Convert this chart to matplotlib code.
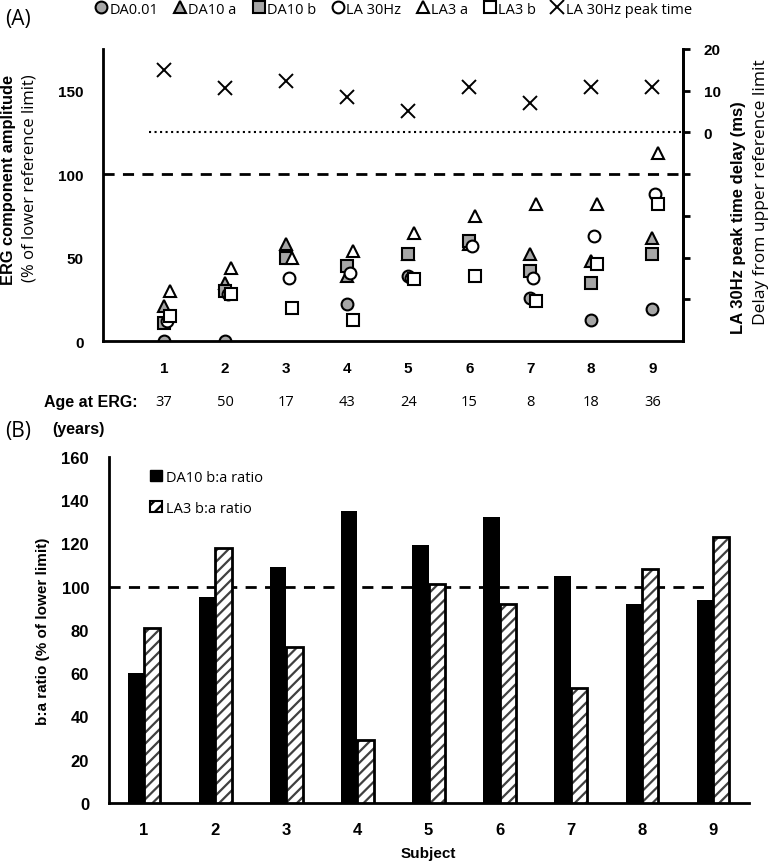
import numpy as np
import matplotlib
matplotlib.use("Agg")
from matplotlib import pyplot as plt
from matplotlib.patches import Patch

# panel A data (% of lower reference limit)
subjects = [1, 2, 3, 4, 5, 6, 7, 8, 9]
ages = [37, 50, 17, 43, 24, 15, 8, 18, 36]
da001 = [0, 0, np.nan, 22, 39, 58, 26, 13, 19]
da10_a = [21, 35, 58, 39, 52, 58, 52, 48, 62]
da10_b = [11, 30, 50, 45, 52, 60, 42, 35, 52]
la30 = [12, 28, 38, 41, 38, 57, 38, 63, 88]
la3_a = [30, 44, 50, 54, 65, 75, 82, 82, 113]
la3_b = [15, 28, 20, 13, 37, 39, 24, 46, 82]
peak_delay = [15, 10.6, 12.4, 8.5, 5.1, 10.9, 7.1, 10.9, 10.9]  # ms

# panel B data (b:a ratio, % of lower limit)
da10_ratio = [60, 95, 109, 135, 119, 132, 105, 92, 94]
la3_ratio = [81, 118, 72, 29, 101, 92, 53, 108, 123]

GREY = "#a6a6a6"
BOLD = ["Liberation Sans", "DejaVu Sans"]
LIGHT = ["Open Sans", "DejaVu Sans"]
NARROW = ["Liberation Sans Narrow", "Liberation Sans", "DejaVu Sans"]

plt.rcParams["hatch.linewidth"] = 1.6

fig = plt.figure(figsize=(7.75, 8.62), dpi=100)

# ---------------- panel A ----------------
ax = fig.add_axes([0.133, 0.603, 0.748, 0.339])
x = np.array(subjects)
mk = dict(linestyle="none", markersize=8.5, markeredgecolor="black", markeredgewidth=1.5)
ax.plot(x, da001, "o", markerfacecolor=GREY, label="DA0.01", **mk)
ax.plot(x, da10_a, "^", markerfacecolor=GREY, label="DA10 a", **mk)
ax.plot(x, da10_b, "s", markerfacecolor=GREY, label="DA10 b", **mk)
ax.plot(x + 0.05, la30, "o", markerfacecolor="white", label="LA 30Hz", **mk)
ax.plot(x + 0.1, la3_a, "^", markerfacecolor="white", label="LA3 a", **mk)
ax.plot(x + 0.1, la3_b, "s", markerfacecolor="white", label="LA3 b", **mk)
ax.axhline(100, color="black", lw=2, ls=(0, (4, 3)))
ax.set_xlim(0, 9.5)
ax.set_ylim(0, 175)
ax.set_yticks([0, 50, 100, 150])
ax.set_xticks(subjects)
ax.tick_params(length=0, pad=14)
for t in ax.get_xticklabels() + ax.get_yticklabels():
    t.set_family(BOLD)
    t.set_fontweight("bold")
    t.set_fontsize(11)
ax.spines["top"].set_visible(False)
for s in ["left", "bottom", "right"]:
    ax.spines[s].set_linewidth(2)

ax2 = ax.twinx()
ax2.plot(x, peak_delay, "x", color="black", markersize=10, markeredgewidth=1.4,
         label="LA 30Hz peak time")
ax2.plot([0.75, 9.5], [0, 0], color="black", lw=1.5, ls=":")
ax2.set_ylim(-50, 20)
ax2.set_yticks([-40, -30, -20, -10, 0, 10, 20])
ax2.set_yticklabels(["", "", "", "", "0", "10", "20"])
ax2.tick_params(length=5, width=2, pad=10)
for t in ax2.get_yticklabels():
    t.set_family(BOLD)
    t.set_fontweight("bold")
    t.set_fontsize(11)
ax2.spines["top"].set_visible(False)
ax2.spines["right"].set_linewidth(2)

# age row
xt = ax.get_xaxis_transform()
for xi, a in zip(subjects, ages):
    ax.text(xi, -0.205, str(a), transform=xt, ha="center", va="center",
            fontsize=10.5, family=LIGHT)
fig.text(138 / 775, 1 - 402 / 862, "Age at ERG:", ha="right", va="center",
         fontsize=11.5, fontweight="bold", family=BOLD)
fig.text(52 / 775, 1 - 430 / 862, "(years)", ha="left", va="center",
         fontsize=11.5, fontweight="bold", family=BOLD)

# axis titles
fig.text(9 / 775, 1 - 180 / 862, "ERG component amplitude", rotation=90,
         ha="center", va="center", fontsize=11.8, fontweight="bold", family=BOLD)
fig.text(30 / 775, 1 - 178 / 862, "(% of lower reference limit)", rotation=90,
         ha="center", va="center", fontsize=12, family=LIGHT)
fig.text(739 / 775, 1 - 218 / 862, "LA 30Hz peak time delay (ms)", rotation=90,
         ha="center", va="center", fontsize=12, fontweight="bold", family=BOLD)
fig.text(761 / 775, 1 - 192 / 862, "Delay from upper reference limit", rotation=90,
         ha="center", va="center", fontsize=12.5, family=LIGHT)

h1, l1 = ax.get_legend_handles_labels()
h2, l2 = ax2.get_legend_handles_labels()
fig.legend(h1 + h2[:1], l1 + l2[:1], loc="center", bbox_to_anchor=(0.507, 1 - 10 / 862),
           ncol=7, frameon=False, handletextpad=0.05, columnspacing=1.0,
           handlelength=1.0, prop=dict(family=LIGHT, size=10.5))

fig.text(5 / 775, 1 - 20 / 862, "(A)", fontsize=15, va="center", family=LIGHT)
fig.text(5 / 775, 1 - 432 / 862, "(B)", fontsize=15, va="center", family=LIGHT)

# ---------------- panel B ----------------
bx = fig.add_axes([0.14, 0.0673, 0.826, 0.4017])
w = 0.23
bx.bar(x - w / 2, da10_ratio, width=w, color="black", zorder=3)
bx.bar(x + w / 2, la3_ratio, width=w, color="white", edgecolor="#404040",
       hatch="///", linewidth=0, zorder=3)
bx.bar(x + w / 2, la3_ratio, width=w, color="none", edgecolor="black",
       linewidth=2, zorder=4)
bx.plot([0.5, 9.2], [100, 100], color="black", lw=2, ls=(0, (4, 3)), zorder=2)
bx.set_xlim(0.5, 9.5)
bx.set_ylim(0, 160)
bx.set_yticks(range(0, 161, 20))
bx.set_xticks(subjects)
bx.tick_params(length=0, pad=14)
for t in bx.get_xticklabels() + bx.get_yticklabels():
    t.set_family(NARROW)
    t.set_fontweight("bold")
    t.set_fontsize(12)
for s in ["top", "right"]:
    bx.spines[s].set_visible(False)
for s in ["left", "bottom"]:
    bx.spines[s].set_linewidth(2)
bx.set_xlabel("Subject", fontsize=11, fontweight="bold", family=NARROW, labelpad=6)
bx.set_ylabel("b:a ratio (% of lower limit)", fontsize=11, fontweight="bold",
              family=NARROW, labelpad=8)

hb = [Patch(facecolor="black", edgecolor="black"),
      Patch(facecolor="white", edgecolor="black", hatch="///", linewidth=1.5)]
bx.legend(hb, ["DA10 b:a ratio", "LA3 b:a ratio"], loc="upper left",
          bbox_to_anchor=(0.045, 1.0), frameon=False, labelspacing=1.1,
          handlelength=0.8, handleheight=0.8, handletextpad=0.3,
          prop=dict(family=LIGHT, size=10.5))

fig.savefig("out.png", dpi=100)
